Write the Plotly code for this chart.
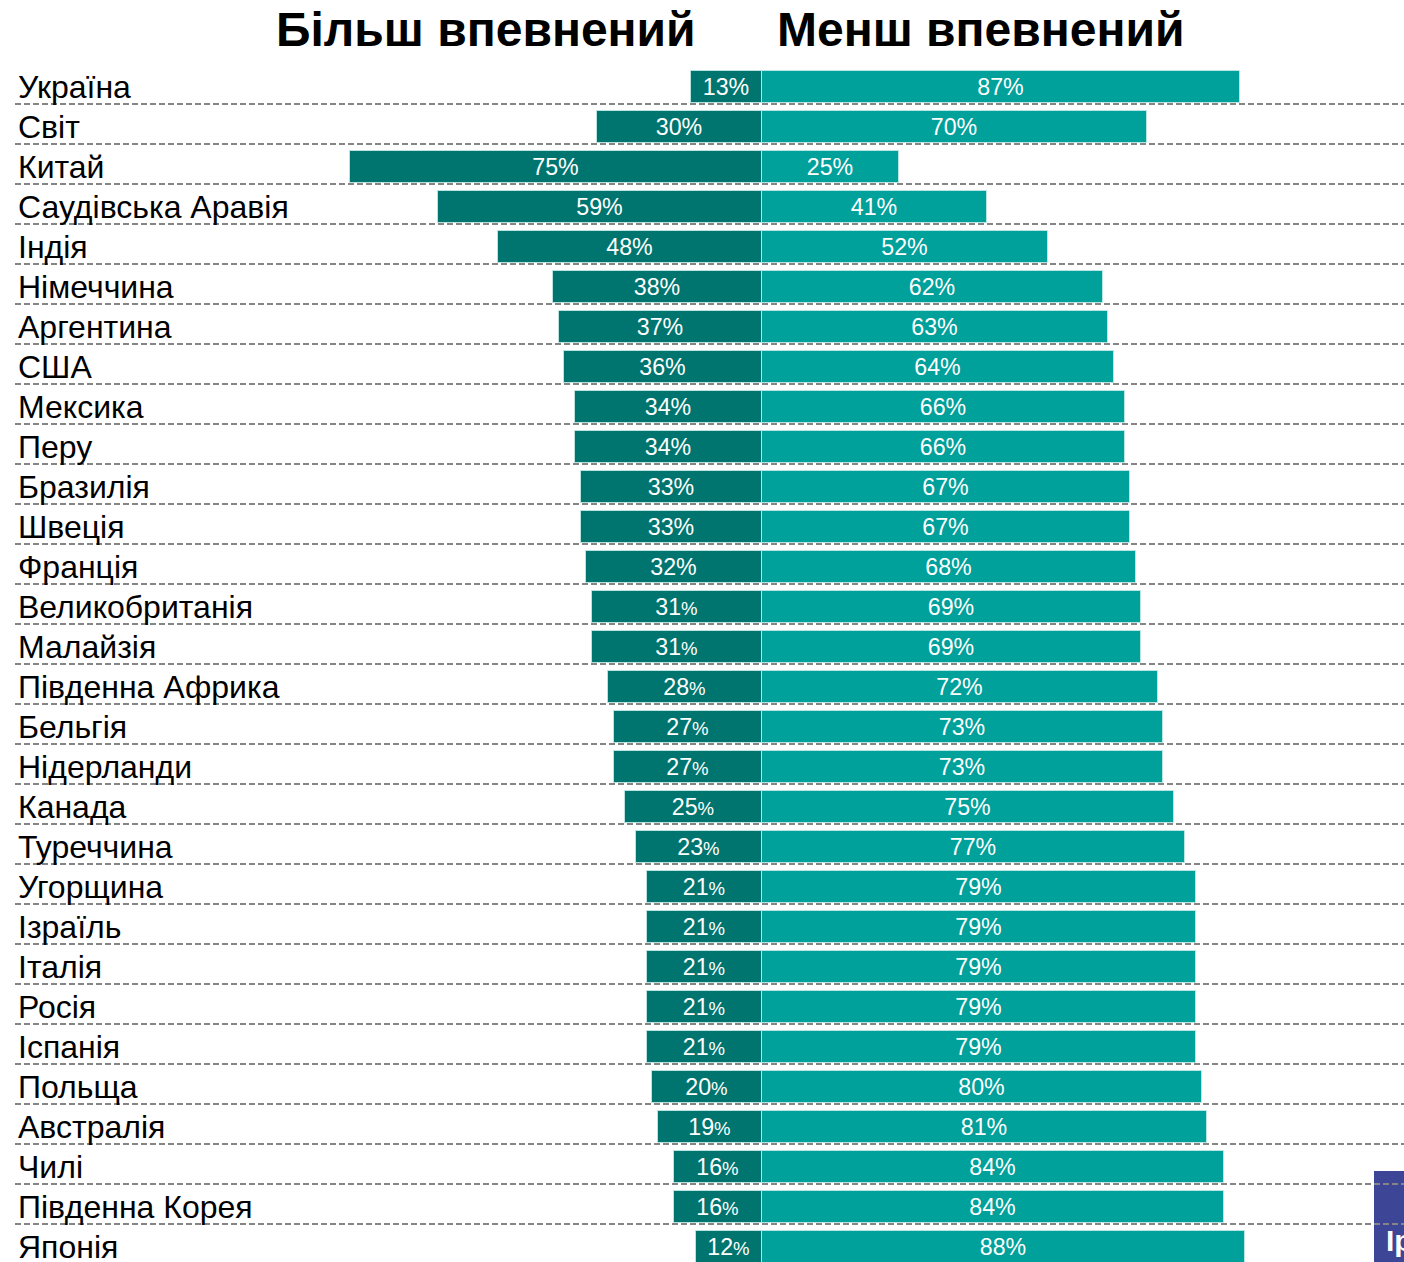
import plotly.graph_objects as go

# Countries (top to bottom) and shares, %
countries = [
    "Україна", "Світ", "Китай", "Саудівська Аравія", "Індія", "Німеччина",
    "Аргентина", "США", "Мексика", "Перу", "Бразилія", "Швеція", "Франція",
    "Великобританія", "Малайзія", "Південна Африка", "Бельгія", "Нідерланди",
    "Канада", "Туреччина", "Угорщина", "Ізраїль", "Італія", "Росія", "Іспанія",
    "Польща", "Австралія", "Чилі", "Південна Корея", "Японія",
]
more_confident = [13, 30, 75, 59, 48, 38, 37, 36, 34, 34, 33, 33, 32, 31, 31,
                  28, 27, 27, 25, 23, 21, 21, 21, 21, 21, 20, 19, 16, 16, 12]
less_confident = [87, 70, 25, 41, 52, 62, 63, 64, 66, 66, 67, 67, 68, 69, 69,
                  72, 73, 73, 75, 77, 79, 79, 79, 79, 79, 80, 81, 84, 84, 88]
titles = ["Більш впевнений", "Менш впевнений"]

W, H = 1404, 1262
DARK = "#00756F"
LIGHT = "#00A09B"
FONT = "Liberation Sans, Arial, sans-serif"

rows = list(range(len(countries)))

# labels in the lower rows of the source use a smaller % sign
left_text = [
    f"{v}%" if i < 13 else f"{v}<span style='font-size:20px'>%</span>"
    for i, v in enumerate(more_confident)
]
right_text = [f"{v}%" for v in less_confident]

fig = go.Figure()

fig.add_trace(go.Bar(
    y=rows, x=[-v for v in more_confident], orientation="h",
    marker=dict(color=DARK, line=dict(color="rgba(200,235,232,0.8)", width=1)),
    width=0.82, text=left_text, textposition="inside",
    insidetextanchor="middle", textangle=0,
    textfont=dict(family=FONT, size=25, color="white"),
    hoverinfo="skip", showlegend=False,
))
fig.add_trace(go.Bar(
    y=rows, x=less_confident, orientation="h",
    marker=dict(color=LIGHT, line=dict(color="rgba(200,235,232,0.8)", width=1)),
    width=0.82, text=right_text, textposition="inside",
    insidetextanchor="middle", textangle=0,
    textfont=dict(family=FONT, size=25, color="white"),
    hoverinfo="skip", showlegend=False,
))

shapes = []
# Ipsos logo box, bottom right
shapes.append(dict(type="rect", xref="paper", yref="paper",
                   x0=1374 / W, x1=1.01, y0=-0.01, y1=1 - 1171 / H,
                   fillcolor="#3D4596", line=dict(width=0), layer="below"))
# dashed separators under each row
for i in rows:
    shapes.append(dict(type="line", xref="paper", yref="y",
                       x0=15 / W, x1=1, y0=i + 0.425, y1=i + 0.425,
                       line=dict(color="#858585", width=2, dash="6px,3px"),
                       layer="below"))

annotations = []
for i, name in enumerate(countries):
    annotations.append(dict(x=16 / W, xref="paper", y=i, yref="y",
                            text=name, showarrow=False, xanchor="left",
                            yanchor="middle", yshift=0,
                            font=dict(family=FONT, size=32, color="black")))
for txt, cx in zip(titles, [486, 980]):
    annotations.append(dict(x=cx / W, xref="paper", y=1 - 30 / H, yref="paper",
                            text=f"<b>{txt}</b>", showarrow=False,
                            xanchor="center", yanchor="middle",
                            font=dict(family=FONT, size=48, color="black")))
annotations.append(dict(x=1384 / W, xref="paper", y=1 - 1240 / H, yref="paper",
                        text="<b>Ipsos</b>", showarrow=False, xanchor="left",
                        yanchor="middle",
                        font=dict(family=FONT, size=30, color="white")))

px_per_pct = (1240 - 762) / 87
fig.update_layout(
    width=W, height=H,
    margin=dict(l=0, r=0, t=0, b=0),
    paper_bgcolor="white", plot_bgcolor="white",
    barmode="relative", bargap=0,
    xaxis=dict(range=[-762 / px_per_pct, (W - 762) / px_per_pct],
               visible=False, fixedrange=True),
    yaxis=dict(range=[(H - 87) / 40, -87 / 40], visible=False,
               fixedrange=True),
    shapes=shapes, annotations=annotations,
    uniformtext=dict(mode=False),
)

fig.write_html("out.html", config={"displayModeBar": False},
               post_script="document.body.style.margin='0';"
                           "document.body.style.overflow='hidden';")
